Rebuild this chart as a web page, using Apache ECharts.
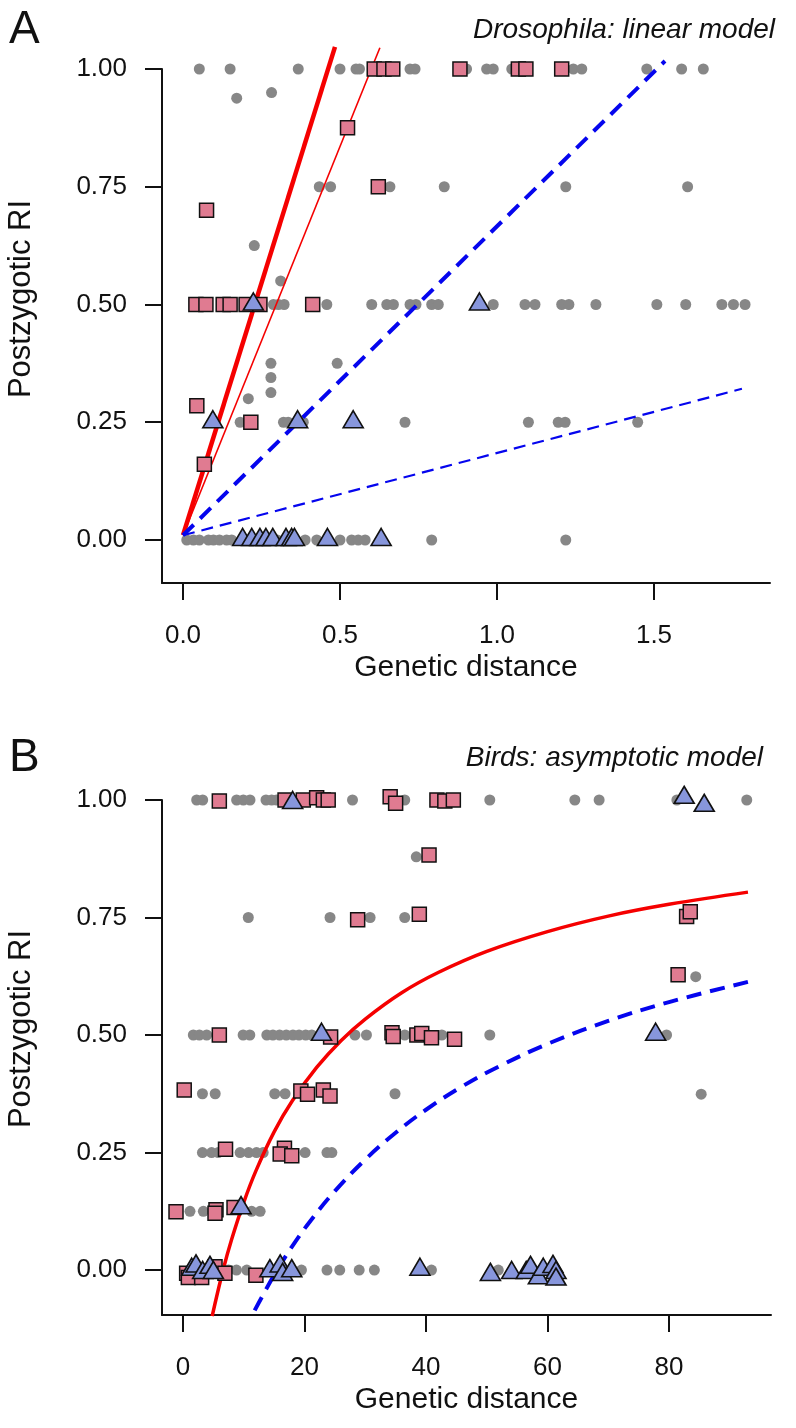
<!DOCTYPE html>
<html><head><meta charset="utf-8">
<script src="https://cdn.jsdelivr.net/npm/echarts@6/dist/echarts.min.js"></script>
<style>html,body{margin:0;padding:0;background:#fff}#c{width:796px;height:1428px}</style>
</head><body><div id="c"></div>
<script>
// ---- tick labels ----
const yTicks = [0, 0.25, 0.5, 0.75, 1];
const aXTicks = [0, 0.5, 1, 1.5];
const bXTicks = [0, 20, 40, 60, 80];

// ---- Panel A: Drosophila ----
const aGray = [
 [0.052,1],[0.150,1],[0.367,1],[0.500,1],[0.551,1],[0.562,1],[0.723,1],[0.739,1],[0.903,1],[0.967,1],[0.988,1],[1.047,1],[1.243,1],[1.270,1],[1.477,1],[1.588,1],[1.657,1],
 [0.171,0.938],[0.282,0.95],
 [0.434,0.75],[0.470,0.75],[0.659,0.75],[0.832,0.75],[1.219,0.75],[1.607,0.75],
 [0.227,0.625],[0.311,0.55],
 [0.288,0.5],[0.304,0.5],[0.322,0.5],[0.458,0.5],[0.601,0.5],[0.649,0.5],[0.670,0.5],[0.723,0.5],[0.742,0.5],[0.792,0.5],[0.813,0.5],[0.988,0.5],[1.089,0.5],[1.121,0.5],[1.206,0.5],[1.229,0.5],[1.315,0.5],[1.509,0.5],[1.601,0.5],[1.716,0.5],[1.753,0.5],[1.790,0.5],
 [0.280,0.375],[0.491,0.375],[0.280,0.345],[0.280,0.313],[0.208,0.30],
 [0.182,0.25],[0.320,0.25],[0.335,0.25],[0.383,0.25],[0.707,0.25],[1.100,0.25],[1.195,0.25],[1.217,0.25],[1.448,0.25],
 [0.012,0],[0.033,0],[0.052,0],[0.081,0],[0.097,0],[0.116,0],[0.139,0],[0.155,0],[0.200,0],[0.300,0],[0.389,0],[0.426,0],[0.500,0],[0.537,0],[0.558,0],[0.580,0],[0.792,0],[1.219,0]
];
const aSquares = [
 [0.609,1],[0.640,1],[0.668,1],[0.882,1],[1.068,1],[1.092,1],[1.206,1],
 [0.524,0.875],[0.622,0.75],[0.075,0.70],
 [0.041,0.5],[0.073,0.5],[0.128,0.5],[0.150,0.5],[0.201,0.5],[0.245,0.5],[0.413,0.5],
 [0.044,0.285],[0.216,0.25],[0.068,0.161]
];
const aTriangles = [
 [0.224,0.5],[0.944,0.5],[0.095,0.25],[0.365,0.25],[0.542,0.25],
 [0.190,0],[0.219,0],[0.245,0],[0.264,0],[0.286,0],[0.328,0],[0.346,0],[0.355,0],[0.460,0],[0.631,0]
];
const aRedThick = [[0,0.01],[0.484,1.047]];
const aRedThin = [[0,0.01],[0.627,1.045]];
const aBlueThick = [[0,0.01],[1.535,1.017]];
const aBlueThin = [[0,0.01],[1.78,0.321]];

// ---- Panel B: Birds ----
const bGray = [
 [2.25,1],[3.24,1],[8.83,1],[9.93,1],[11.03,1],[13.66,1],[14.6,1],[15.4,1],[27.9,1],[36.5,1],[50.5,1],[64.5,1],[68.5,1],[81.3,1],[92.8,1],
 [38.4,0.879],
 [10.75,0.75],[24.2,0.75],[30.8,0.75],[36.5,0.75],
 [84.4,0.624],
 [1.7,0.5],[2.7,0.5],[3.9,0.5],[9.9,0.5],[11.0,0.5],[13.8,0.5],[14.8,0.5],[15.9,0.5],[17.0,0.5],[18.1,0.5],[19.1,0.5],[20.2,0.5],[21.2,0.5],[28.3,0.5],[30.2,0.5],[36.5,0.5],[42.6,0.5],[50.5,0.5],[79.6,0.5],
 [3.2,0.375],[5.3,0.375],[15.1,0.375],[16.8,0.375],[34.9,0.375],[85.3,0.374],
 [3.2,0.25],[4.7,0.25],[5.8,0.25],[9.4,0.25],[10.8,0.25],[12.1,0.25],[13.2,0.25],[20.1,0.25],[23.7,0.25],[24.5,0.25],
 [1.15,0.125],[3.35,0.125],[11.3,0.125],[12.7,0.125],
 [2.0,0],[7.5,0],[8.8,0],[10.5,0],[19.5,0],[23.7,0],[25.8,0],[29.0,0],[31.5,0],[40.9,0],[51.9,0]
];
const bSquares = [
 [5.98,0.998],[16.8,1.0],[19.8,1.0],[22.0,1.005],[23.1,1.0],[23.9,1.0],[34.1,1.007],[35.0,0.993],[41.8,1.0],[43.1,0.998],[44.5,1.0],
 [40.5,0.883],
 [28.75,0.745],[38.9,0.757],[82.9,0.752],[83.5,0.762],
 [81.5,0.628],
 [5.98,0.5],[24.3,0.496],[34.4,0.505],[34.6,0.497],[38.5,0.5],[39.3,0.503],[40.9,0.494],[44.7,0.491],
 [0.2,0.383],[19.4,0.381],[20.5,0.374],[23.1,0.383],[24.2,0.370],
 [7.0,0.257],[16.7,0.259],[16.0,0.247],[17.9,0.243],
 [-1.15,0.124],[5.43,0.128],[5.27,0.121],[8.4,0.133],
 [0.6,-0.007],[0.88,-0.016],[3.07,-0.016],[5.27,0.007],[6.9,-0.007],[12.0,-0.011]
];
const bTriangles = [
 [18.05,1.0],[82.5,1.011],[85.8,0.994],
 [22.8,0.507],[77.8,0.507],
 [9.55,0.138],
 [1.43,0.007],[2.14,0.014],[3.24,0],[4.44,0.011],[5.0,0],
 [14.3,0.004],[16.0,0.014],[16.4,-0.004],[17.9,0.004],
 [39.0,0.007],
 [50.6,-0.004],[54.1,0],[56.5,0],[57.2,0.011],[58.5,-0.011],[59.3,0.007],[60.9,0.013],[61.4,0],[61.4,-0.014]
];
const bRed = [[4.8,-0.098],[6.6,0],[8,0.065],[10,0.144],[12,0.211],[15,0.294],[18,0.36],[22,0.431],[26,0.488],[30,0.534],[36,0.59],[42,0.633],[50,0.678],[60,0.72],[70,0.753],[80,0.778],[93,0.804]];
const bBlue = [[11.8,-0.086],[13,-0.057],[15.5,0],[18,0.051],[21,0.105],[25,0.168],[30,0.235],[35,0.292],[40,0.341],[46,0.391],[52,0.433],[60,0.481],[70,0.53],[80,0.57],[93,0.613]];

// ---- styles ----
const FONT = '"Liberation Sans", Arial, Helvetica, sans-serif';
const GRAY = '#878787', PINK = '#e07b91', PURPLE = '#8796dc', RED = '#f50000', BLUE = '#0505ee';
const axisLine = {show: true, onZero: false, lineStyle: {color: '#111', width: 2}};
const tickStyle = {length: 17, inside: false, lineStyle: {color: '#111', width: 2}};
const labelStyle = {color: '#111', fontSize: 26, fontFamily: FONT};

function xAxis(gi, min, max, ticks, digits) {
  return {
    type: 'value', gridIndex: gi, min: min, max: max,
    axisLine: axisLine,
    axisTick: Object.assign({customValues: ticks}, tickStyle),
    axisLabel: Object.assign({customValues: ticks, margin: 40, formatter: v => Number(v).toFixed(digits)}, labelStyle),
    splitLine: {show: false},
    name: 'Genetic distance', nameLocation: 'middle', nameGap: 70,
    nameTextStyle: {color: '#111', fontSize: 30, fontFamily: FONT}
  };
}
function yAxis(gi, min, max) {
  return {
    type: 'value', gridIndex: gi, min: min, max: max,
    axisLine: axisLine,
    axisTick: Object.assign({customValues: yTicks}, tickStyle),
    axisLabel: Object.assign({customValues: yTicks, margin: 35, formatter: v => Number(v).toFixed(2)}, labelStyle),
    splitLine: {show: false}
  };
}
function scat(name, xi, data, kind, extra) {
  const base = {
    type: 'scatter', name: name, xAxisIndex: xi, yAxisIndex: xi, data: data, clip: false, z: 3
  };
  if (kind === 'gray') {
    base.symbol = 'circle'; base.symbolSize = 11;
    base.itemStyle = {color: GRAY, opacity: 1};
    base.z = 2;
  } else if (kind === 'sq') {
    base.symbol = 'rect'; base.symbolSize = 14;
    base.itemStyle = {color: PINK, borderColor: '#111', borderWidth: 1.5, opacity: 1};
    base.z = 4;
  } else {
    base.symbol = 'triangle'; base.symbolSize = [20, 17];
    base.itemStyle = {color: PURPLE, borderColor: '#111', borderWidth: 1.6, opacity: 1};
    base.z = 5;
  }
  return Object.assign(base, extra || {});
}
function line(name, xi, data, color, width, type, clip) {
  return {
    type: 'line', name: name, xAxisIndex: xi, yAxisIndex: xi, data: data,
    showSymbol: false, symbol: 'none', smooth: data.length > 2 ? 0.4 : false, clip: clip, z: 3,
    lineStyle: {color: color, width: width, type: type, cap: 'butt'}
  };
}

const chart = echarts.init(document.getElementById('c'), null, {renderer: 'canvas'});
chart.setOption({
  animation: false,
  backgroundColor: '#fff',
  title: [
    {text: 'A', left: 4, top: 2, textStyle: {fontSize: 46, fontWeight: 'normal', color: '#111', fontFamily: FONT}},
    {text: 'Drosophila: linear model', right: 16, top: 11, textStyle: {fontSize: 28, fontStyle: 'italic', fontWeight: 'normal', color: '#111', fontFamily: FONT}},
    {text: 'B', left: 4, top: 730, textStyle: {fontSize: 46, fontWeight: 'normal', color: '#111', fontFamily: FONT}},
    {text: 'Birds: asymptotic model', right: 28, top: 739, textStyle: {fontSize: 28, fontStyle: 'italic', fontWeight: 'normal', color: '#111', fontFamily: FONT}}
  ],
  grid: [
    {left: 162, top: 69, width: 608, height: 514},
    {left: 162, top: 800, width: 609, height: 515}
  ],
  xAxis: [
    xAxis(0, -0.0669, 1.8694, aXTicks, 1),
    xAxis(1, -3.457, 96.79, bXTicks, 0)
  ],
  yAxis: [
    yAxis(0, -0.0913, 1.0),
    yAxis(1, -0.0957, 1.0)
  ],
  graphic: [
    {type: 'text', x: 21, y: 299, rotation: Math.PI / 2,
     style: {text: 'Postzygotic RI', fontSize: 31, fontFamily: FONT, fill: '#111', textAlign: 'center', textVerticalAlign: 'middle'}},
    {type: 'text', x: 21, y: 1029, rotation: Math.PI / 2,
     style: {text: 'Postzygotic RI', fontSize: 31, fontFamily: FONT, fill: '#111', textAlign: 'center', textVerticalAlign: 'middle'}}
  ],
  series: [
    scat('A other', 0, aGray, 'gray'),
    line('A fit red thick', 0, aRedThick, RED, 4.5, 'solid', false),
    line('A fit red thin', 0, aRedThin, RED, 1.6, 'solid', false),
    line('A fit blue thick', 0, aBlueThick, BLUE, 4, [15, 9], false),
    line('A fit blue thin', 0, aBlueThin, BLUE, 2.2, [12, 7], false),
    scat('A squares', 0, aSquares, 'sq'),
    scat('A triangles', 0, aTriangles, 'tri', {symbolOffset: [0, -3]}),
    scat('B other', 1, bGray, 'gray'),
    line('B fit red', 1, bRed, RED, 3.5, 'solid', true),
    line('B fit blue', 1, bBlue, BLUE, 4, [15, 9], true),
    scat('B squares', 1, bSquares, 'sq'),
    scat('B triangles', 1, bTriangles, 'tri')
  ]
});
</script>
</body></html>
